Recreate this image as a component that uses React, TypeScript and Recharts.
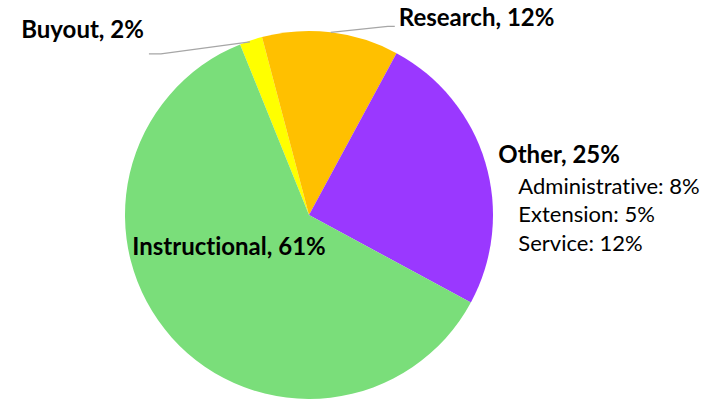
import React from 'react';
import { PieChart, Pie, Cell } from 'recharts';

const categories = ['Buyout', 'Research', 'Other', 'Instructional'];
const shares = [2, 12, 25, 61];
const colors = ['#FFFF00', '#FFC000', '#9A38FF', '#7ADE7A'];
const otherBreakdown = ['Administrative: 8%', 'Extension: 5%', 'Service: 12%'];

const data = categories.map((name, i) => ({ name, value: shares[i] }));

const RAD = Math.PI / 180;
const FONT = 'Lato, "Open Sans", sans-serif';

const renderLabel = (props: any) => {
  const { cx, cy, midAngle, outerRadius, name, value } = props;
  const px = cx + outerRadius * Math.cos(-midAngle * RAD);
  const py = cy + outerRadius * Math.sin(-midAngle * RAD);
  const text = `${name}, ${value}%`;
  const bold = {
    fontFamily: FONT,
    fontWeight: 700,
    fontSize: 24,
    fill: '#000',
    style: { fontVariantLigatures: 'none' as const },
  };

  if (name === 'Buyout') {
    return (
      <g>
        <polyline
          points={`${px - 1},${py + 1.5} ${px - 90},${py + 13.5} ${px - 102},${py + 13.5}`}
          fill="none"
          stroke="#A6A6A6"
          strokeWidth={1.3}
        />
        <text x={px - 107} y={py - 2.5} textAnchor="end" {...bold}>{text}</text>
      </g>
    );
  }
  if (name === 'Research') {
    return (
      <g>
        <polyline
          points={`${px},${py} ${px + 57},${py - 6} ${px + 64},${py - 6}`}
          fill="none"
          stroke="#A6A6A6"
          strokeWidth={1.3}
        />
        <text x={px + 68} y={py - 6.5} textAnchor="start" {...bold}>{text}</text>
      </g>
    );
  }
  if (name === 'Other') {
    return (
      <g>
        <text x={px + 13} y={py + 1} textAnchor="start" {...bold}>{text}</text>
        {otherBreakdown.map((line, i) => (
          <text
            key={line}
            x={px + 33}
            y={py + 31.5 + i * 28.5}
            textAnchor="start"
            style={{ fontFamily: FONT, fontSize: 22, fill: '#000', fontVariantLigatures: 'none' }}
          >
            {line}
          </text>
        ))}
      </g>
    );
  }
  return (
    <text x={cx - 80} y={cy + 40} textAnchor="middle" {...bold}>{text}</text>
  );
};

export default function App() {
  return (
    <div style={{ position: 'absolute', left: 0, top: 0, width: 725, height: 400, background: '#fff' }}>
      <PieChart width={725} height={400} margin={{ top: 0, right: 0, bottom: 0, left: 0 }}>
        <Pie
          data={data}
          dataKey="value"
          nameKey="name"
          cx={309}
          cy={215}
          outerRadius={184}
          startAngle={112}
          endAngle={-248}
          stroke="none"
          label={renderLabel}
          labelLine={false}
          isAnimationActive={false}
        >
          {data.map((d, i) => (
            <Cell key={d.name} fill={colors[i]} />
          ))}
        </Pie>
      </PieChart>
    </div>
  );
}
